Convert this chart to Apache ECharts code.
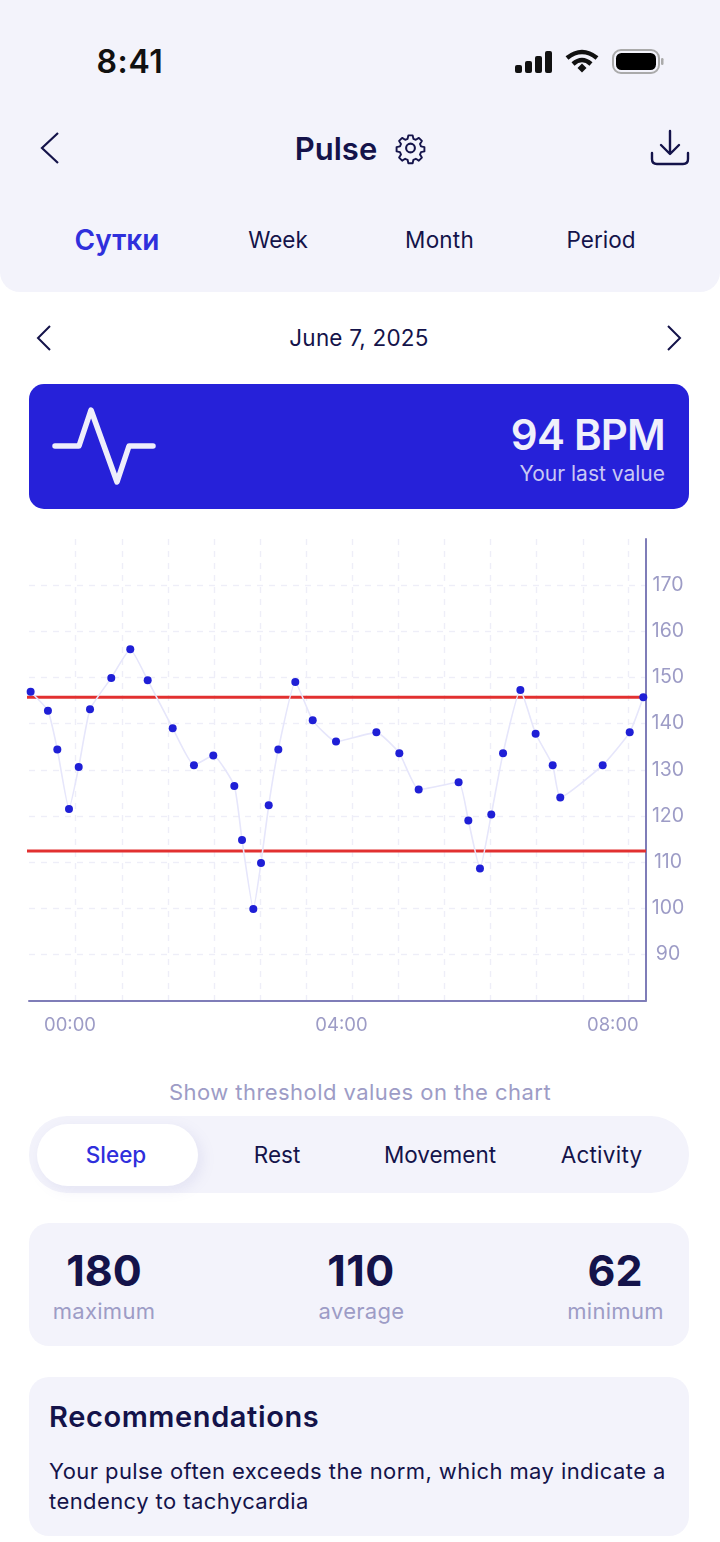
<!DOCTYPE html>
<html>
<head>
<meta charset="utf-8">
<title>Pulse</title>
<script src="https://cdn.jsdelivr.net/npm/echarts@6/dist/echarts.min.js"></script>
<style>
  * { box-sizing: border-box; margin: 0; padding: 0; }
  html, body { width: 720px; height: 1542px; background: #fff; overflow: hidden; }
  body { position: relative; font-family: Inter, "Noto Sans", sans-serif; color: #14134a; }
  .box { position: absolute; background: #f3f3fb; }
  .t { position: absolute; white-space: nowrap; line-height: 1; transform: translate(-50%, -50%); }
  .r { transform: translate(-100%, -50%); }
  .l { transform: translate(0, -50%); }
  svg { position: absolute; overflow: visible; }
  #chartPulse { position: absolute; left: 0; top: 530px; width: 720px; height: 510px; }
</style>
</head>
<body>
<div class="box" style="left:0;top:0;width:720px;height:292px;border-radius:0 0 20px 20px"></div>
<div class="t" style="left:130px;top:62px;font-size:32px;font-weight:600;color:#111;letter-spacing:.6px">8:41</div>

<svg style="left:515px;top:50px" width="38" height="24" fill="#111">
  <rect x="0" y="15" width="7" height="8" rx="2"/><rect x="10" y="11" width="7" height="12" rx="2"/>
  <rect x="20" y="6" width="7" height="17" rx="2"/><rect x="30" y="1" width="7" height="22" rx="2"/>
</svg>
<svg style="left:565px;top:49px" width="34" height="24" fill="none" stroke="#111" stroke-width="4.5">
  <path d="M2 9 Q17 -3 32 9"/><path d="M8 15 Q17 7 26 15"/>
  <path d="M12.5 19 L17 14.5 L21.5 19 L17 23.5 Z" fill="#111" stroke="none"/>
</svg>
<svg style="left:612px;top:49px" width="52" height="26">
  <rect x="1" y="1" width="46" height="23" rx="8" fill="none" stroke="#aaa" stroke-width="2"/>
  <rect x="4" y="4" width="40" height="17" rx="5.5" fill="#000"/>
  <rect x="49" y="9" width="2.5" height="7" rx="1.2" fill="#aaa"/>
</svg>

<svg style="left:40px;top:132px" width="20" height="32" fill="none" stroke="#14134a" stroke-width="2.2"><path d="M18 1 L2 16 L18 31"/></svg>
<div class="t" style="left:336px;top:148px;font-size:31px;font-weight:600">Pulse</div>
<svg style="left:394px;top:131px" width="33" height="34" viewBox="0 0 24 24" fill="none" stroke="#14134a" stroke-width="1.5" stroke-linejoin="round">
  <circle cx="12" cy="12" r="3.2"/>
  <path d="M10.3 2h3.4l.6 2.7 1.9.8 2.4-1.5 2.4 2.4-1.5 2.4.8 1.9 2.7.6v3.4l-2.7.6-.8 1.9 1.5 2.4-2.4 2.4-2.4-1.5-1.9.8-.6 2.7h-3.4l-.6-2.7-1.9-.8-2.4 1.5-2.4-2.4 1.5-2.4-.8-1.9-2.7-.6v-3.4l2.7-.6.8-1.9-1.5-2.4 2.4-2.4 2.4 1.5 1.9-.8z" transform="translate(12 12) scale(.92) translate(-12 -12)"/>
</svg>
<svg style="left:650px;top:130px" width="40" height="36" fill="none" stroke="#14134a" stroke-width="2.4" stroke-linecap="round" stroke-linejoin="round">
  <path d="M20 1 V23 M11 15 L20 24 L29 15"/><path d="M2 23 V29 Q2 34 7 34 H33 Q38 34 38 29 V23"/>
</svg>

<div class="t" style="left:117px;top:240px;font-size:28px;font-weight:600;color:#2f2fdc">Сутки</div>
<div class="t" style="left:278px;top:240px;font-size:22.5px">Week</div>
<div class="t" style="left:439.5px;top:240px;font-size:22.5px;letter-spacing:.2px">Month</div>
<div class="t" style="left:601px;top:240px;font-size:22.5px">Period</div>

<svg style="left:36px;top:325px" width="16" height="26" fill="none" stroke="#14134a" stroke-width="2"><path d="M14 1 L2 13 L14 25"/></svg>
<div class="t" style="left:359px;top:338px;font-size:22.5px;letter-spacing:.2px">June 7, 2025</div>
<svg style="left:666px;top:325px" width="16" height="26" fill="none" stroke="#14134a" stroke-width="2"><path d="M2 1 L14 13 L2 25"/></svg>

<div class="box" style="left:29px;top:384px;width:660px;height:125px;border-radius:15px;background:#2621d9"></div>
<svg style="left:52px;top:406px" width="104" height="80" fill="none" stroke="#eeeefb" stroke-width="5.5" stroke-linecap="round" stroke-linejoin="round">
  <path d="M3 40 H27 L39 4 L65 76 L77 40 H101"/>
</svg>
<div class="t r" style="left:665px;top:435px;font-size:42px;font-weight:600;color:#f0f0fb;letter-spacing:-.8px">94 BPM</div>
<div class="t r" style="left:665px;top:473px;font-size:21px;color:#c9c8f4">Your last value</div>

<div id="chartPulse"></div>

<div class="t" style="left:360px;top:1092px;font-size:22px;color:#9d9cc6;letter-spacing:.45px">Show threshold values on the chart</div>

<div class="box" style="left:29px;top:1116px;width:660px;height:77px;border-radius:38px"></div>
<div class="box" style="left:37px;top:1124px;width:161px;height:62px;border-radius:31px;background:#fff;box-shadow:4px 4px 14px rgba(120,120,190,.13)"></div>
<div class="t" style="left:116px;top:1155px;font-size:22.5px;font-weight:500;color:#2f2fdc">Sleep</div>
<div class="t" style="left:277px;top:1155px;font-size:22.5px">Rest</div>
<div class="t" style="left:440px;top:1155px;font-size:22.5px">Movement</div>
<div class="t" style="left:601.5px;top:1155px;font-size:22.5px;letter-spacing:.25px">Activity</div>

<div class="box" style="left:29px;top:1223px;width:660px;height:123px;border-radius:20px"></div>
<div class="t" style="left:104px;top:1270px;font-size:43px;font-weight:700">180</div>
<div class="t" style="left:104px;top:1311px;font-size:22px;color:#9d9cc6;letter-spacing:.3px">maximum</div>
<div class="t" style="left:361px;top:1270px;font-size:43px;font-weight:700;letter-spacing:.5px">110</div>
<div class="t" style="left:361.5px;top:1311px;font-size:22px;color:#9d9cc6;letter-spacing:.3px">average</div>
<div class="t" style="left:615px;top:1270px;font-size:43px;font-weight:700">62</div>
<div class="t" style="left:615.5px;top:1311px;font-size:22px;color:#9d9cc6;letter-spacing:.3px">minimum</div>

<div class="box" style="left:29px;top:1377px;width:660px;height:159px;border-radius:20px"></div>
<div class="t l" style="left:49px;top:1416px;font-size:29px;font-weight:600;letter-spacing:.6px">Recommendations</div>
<div class="t l" style="left:49px;top:1471px;font-size:22px;letter-spacing:.42px">Your pulse often exceeds the norm, which may indicate a</div>
<div class="t l" style="left:49px;top:1501px;font-size:22px;letter-spacing:.42px">tendency to tachycardia</div>

<script>
// minutes from 00:00 (negative = before midnight)
const pulseMinutes = [
  -34.8, -19.5, -11.2, -0.9, 7.7, 17.7, 36.5, 53.3, 68.7, 90.8, 109.6, 126.7,
  145.3, 152.1, 162.1, 168.9, 175.7, 184.2, 199.2, 214.6, 235.2, 270.9, 291.2, 308.3,
  343.6, 352.2, 362.5, 372.5, 382.9, 398.2, 411.7, 426.8, 433.5, 471, 494.9, 506.9
];
const pulseValues = [
  146.9, 142.8, 134.4, 121.5, 130.6, 143.1, 149.9, 156.1, 149.4, 139.0, 131.0, 133.1,
  126.5, 114.8, 99.8, 109.8, 122.3, 134.4, 149.0, 140.7, 136.1, 138.1, 133.6, 125.7,
  127.3, 119.0, 108.6, 120.3, 133.6, 147.3, 137.8, 131.0, 124.0, 131.0, 138.1, 145.7
];
const thresholds = [145.7, 112.4];
const xLabelMinutes = [0, 240, 480];
const xGridMinutes = [5, 45.8, 86.6, 127.3, 168.1, 208.8, 249.6, 290.4, 331.1, 371.9, 412.6, 453.4, 494];
const yTicks = [90, 100, 110, 120, 130, 140, 150, 160, 170];
const xMin = -36.25;
const xMax = 509.3;

function minutesLabel(m) {
  const h = Math.floor(m / 60);
  return String(h).padStart(2, "0") + ":00";
}

const gridLine = { show: true, lineStyle: { color: "#eeeef8", type: [6, 6], width: 1.4 } };
const axisEdge = { show: true, onZero: false, lineStyle: { color: "#7f7db8", width: 2 } };

const thresholdSeries = thresholds.map(v => ({
  type: "line",
  z: 2,
  clip: false,
  symbol: "none",
  data: [[xMin - 2, v], [xMax, v]],
  lineStyle: { color: "#e23030", width: 3 }
}));

const chart = echarts.init(document.getElementById("chartPulse"));
chart.setOption({
  animation: false,
  grid: { left: 29, right: 74, top: 9, height: 461.5 },
  xAxis: {
    type: "value",
    min: xMin,
    max: xMax,
    axisLine: axisEdge,
    axisTick: { show: false, customValues: xGridMinutes },
    splitLine: gridLine,
    axisLabel: {
      customValues: xLabelMinutes,
      formatter: minutesLabel,
      color: "#9d9cc6",
      fontFamily: "Inter",
      fontSize: 18.5,
      margin: 15
    }
  },
  yAxis: {
    type: "value",
    position: "right",
    min: 80,
    max: 180,
    axisLine: axisEdge,
    axisTick: { show: false, customValues: yTicks },
    splitLine: gridLine,
    axisLabel: {
      customValues: yTicks,
      color: "#9d9cc6",
      fontFamily: "Inter",
      fontSize: 19.5,
      align: "center",
      margin: 22
    }
  },
  series: thresholdSeries.concat([
    {
      type: "line",
      z: 3,
      clip: false,
      smooth: 0.15,
      showAllSymbol: true,
      symbol: "circle",
      symbolSize: 8,
      data: pulseMinutes.map((m, i) => [m, pulseValues[i]]),
      lineStyle: { color: "#e6e6fb", width: 1.6 },
      itemStyle: { color: "#1f1fd6" }
    }
  ])
});
</script>
</body>
</html>
